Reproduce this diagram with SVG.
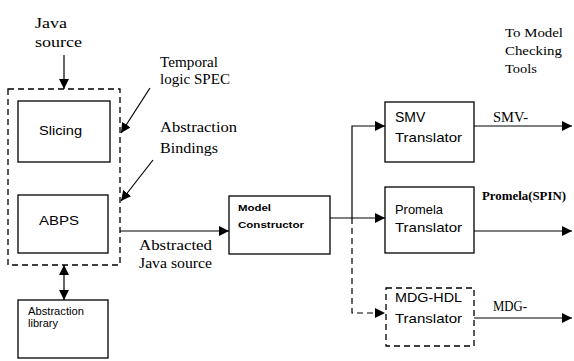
<svg xmlns="http://www.w3.org/2000/svg" width="574" height="361" viewBox="0 0 574 361">
<style>
.box{fill:#fff;stroke:#000;stroke-width:1.3}
.dbox{fill:none;stroke:#000;stroke-width:1.3;stroke-dasharray:6,4}
.ln{fill:none;stroke:#000;stroke-width:1.2}
.dl{fill:none;stroke:#000;stroke-width:1.2;stroke-dasharray:6,4}
.serif{font-family:"Liberation Serif",serif;font-size:15px;fill:#000}
.tool{font-family:"Liberation Serif",serif;font-size:13px;fill:#000}
.sans{font-family:"Liberation Sans",Arial,sans-serif;font-size:13px;fill:#000}
.small{font-family:"Liberation Sans",Arial,sans-serif;font-size:10px;fill:#000}
.bold{font-family:"Liberation Sans",Arial,sans-serif;font-size:9px;font-weight:bold;fill:#000}
</style>
<defs>
<marker id="ah" viewBox="0 0 10 10" refX="10" refY="5" markerWidth="10" markerHeight="10" markerUnits="userSpaceOnUse" orient="auto-start-reverse">
<path d="M0,0 L10,5 L0,10 z" fill="#000"/>
</marker>
</defs>
<rect width="574" height="361" fill="#fff"/>
<g id="texts">
<text class="serif" x="35" y="28" textLength="32" lengthAdjust="spacingAndGlyphs">Java</text>
<text class="serif" x="35" y="47" textLength="47" lengthAdjust="spacingAndGlyphs">source</text>
<text class="serif" x="160" y="67" textLength="58" lengthAdjust="spacingAndGlyphs">Temporal</text>
<text class="serif" x="160" y="84" textLength="70" lengthAdjust="spacingAndGlyphs">logic SPEC</text>
<text class="serif" x="160" y="132" textLength="77" lengthAdjust="spacingAndGlyphs">Abstraction</text>
<text class="serif" x="160" y="153" textLength="58" lengthAdjust="spacingAndGlyphs">Bindings</text>
<text class="serif" x="139" y="250" textLength="73" lengthAdjust="spacingAndGlyphs">Abstracted</text>
<text class="serif" x="139" y="268" textLength="73" lengthAdjust="spacingAndGlyphs">Java source</text>
<text class="tool" x="505" y="37" textLength="58" lengthAdjust="spacingAndGlyphs">To Model</text>
<text class="tool" x="505" y="55" textLength="57" lengthAdjust="spacingAndGlyphs">Checking</text>
<text class="tool" x="505" y="73" textLength="32" lengthAdjust="spacingAndGlyphs">Tools</text>
<text class="serif" x="493" y="122" textLength="35" lengthAdjust="spacingAndGlyphs">SMV-</text>
<text class="serif" x="482" y="200" style="font-weight:bold;font-size:13px" textLength="84" lengthAdjust="spacingAndGlyphs">Promela(SPIN)</text>
<text class="serif" x="493" y="311" textLength="34" lengthAdjust="spacingAndGlyphs">MDG-</text>
</g>
<g id="outer"><rect class="dbox" x="8" y="89" width="112" height="176"/></g>
<g id="slicing"><rect class="box" x="18" y="101" width="92" height="61"/><text class="sans" x="39" y="135" textLength="43" lengthAdjust="spacingAndGlyphs">Slicing</text></g>
<g id="abps"><rect class="box" x="18" y="195" width="90" height="58"/><text class="sans" x="39" y="225" textLength="40" lengthAdjust="spacingAndGlyphs">ABPS</text></g>
<g id="library"><rect class="box" x="18" y="300" width="90" height="58"/><text class="small" x="28" y="315" textLength="56" lengthAdjust="spacingAndGlyphs">Abstraction</text><text class="small" x="28" y="327" textLength="30" lengthAdjust="spacingAndGlyphs">library</text></g>
<g id="model"><rect class="box" x="229" y="196" width="101" height="58"/><text class="bold" x="238" y="211" textLength="33" lengthAdjust="spacingAndGlyphs">Model</text><text class="bold" x="238" y="228" textLength="66" lengthAdjust="spacingAndGlyphs">Constructor</text></g>
<g id="smv"><rect class="box" x="385" y="102" width="89" height="60"/><text class="sans" x="395" y="122" style="font-size:14px">SMV</text><text class="sans" x="395" y="142" textLength="67" lengthAdjust="spacingAndGlyphs">Translator</text></g>
<g id="promela"><rect class="box" x="385" y="187" width="89" height="66"/><text class="sans" x="395" y="214" textLength="48" lengthAdjust="spacingAndGlyphs">Promela</text><text class="sans" x="395" y="232" textLength="67" lengthAdjust="spacingAndGlyphs">Translator</text></g>
<g id="mdg"><rect class="dbox" x="386" y="288" width="88" height="58"/><text class="sans" x="395" y="302" textLength="67" lengthAdjust="spacingAndGlyphs">MDG-HDL</text><text class="sans" x="395" y="323" textLength="67" lengthAdjust="spacingAndGlyphs">Translator</text></g>
<g id="connectors">
<line class="ln" x1="64" y1="55" x2="64" y2="89" marker-end="url(#ah)"/>
<line class="ln" x1="150" y1="88" x2="121" y2="133" marker-end="url(#ah)"/>
<line class="ln" x1="153" y1="160" x2="121" y2="201" marker-end="url(#ah)"/>
<line class="ln" x1="120" y1="231" x2="229" y2="231" marker-end="url(#ah)"/>
<line class="ln" x1="64" y1="265" x2="64" y2="300" marker-start="url(#ah)" marker-end="url(#ah)"/>
<line class="ln" x1="330" y1="218" x2="385" y2="218" marker-end="url(#ah)"/>
<polyline class="ln" points="352,218 352,126 385,126" marker-end="url(#ah)"/>
<polyline class="dl" points="352,218 352,313 385,313" marker-end="url(#ah)"/>
<line class="ln" x1="474" y1="126" x2="572" y2="126" marker-end="url(#ah)"/>
<line class="ln" x1="474" y1="231" x2="572" y2="231" marker-end="url(#ah)"/>
<line class="ln" x1="474" y1="318" x2="572" y2="318" marker-end="url(#ah)"/>
</g>
</svg>
